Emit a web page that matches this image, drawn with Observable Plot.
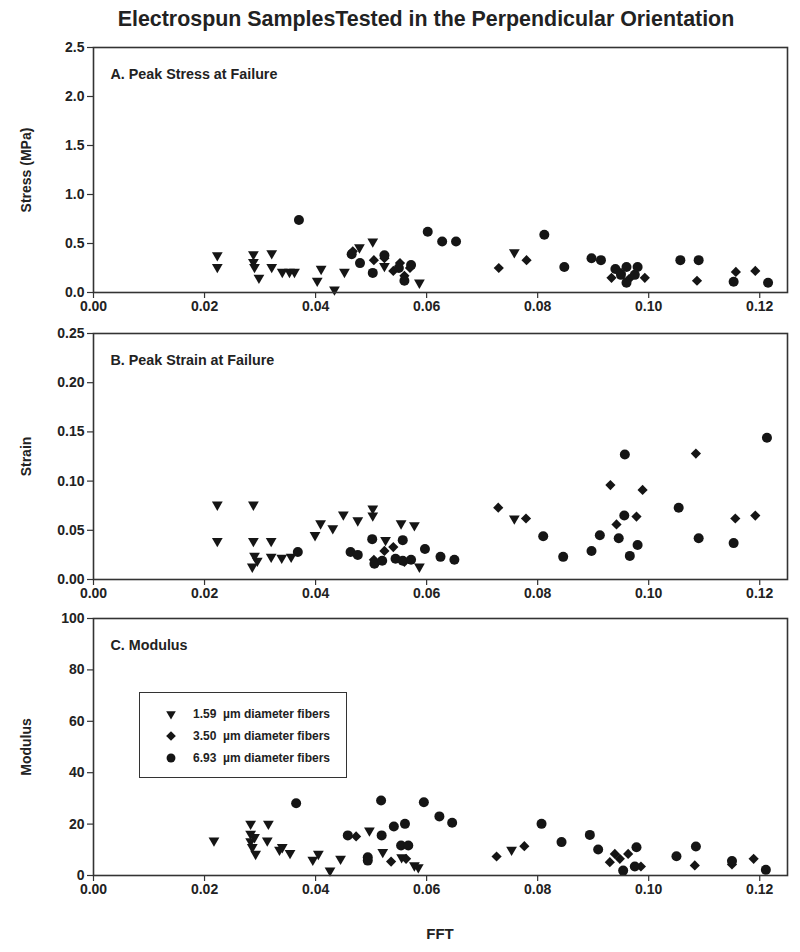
<!DOCTYPE html>
<html>
<head>
<meta charset="utf-8">
<script src="https://cdn.jsdelivr.net/npm/d3@7"></script>
<script src="https://cdn.jsdelivr.net/npm/@observablehq/plot@0.6"></script>
<style>
  html, body { margin: 0; padding: 0; background: #fff; }
  #wrap { position: relative; width: 800px; height: 952px; overflow: hidden; font-family: "Liberation Sans", Arial, sans-serif; color: #222; }
  .abs { position: absolute; }
  #title { top: 7px; left: 76px; width: 700px; text-align: center; font-size: 21.4px; font-weight: bold; }
  #xlabel { top: 925px; left: 340px; width: 200px; text-align: center; font-size: 15px; font-weight: bold; }
  #legend { left: 139px; top: 692px; width: 206px; height: 84px; border: 1.5px solid #333; background: #fff; font-size: 12px; font-weight: bold; }
  .row { position: absolute; left: 0; height: 16px; display: flex; align-items: center; }
  .row svg { margin-left: 24px; margin-right: 15px; }
</style>
</head>
<body>
<div id="wrap">
  <div id="title" class="abs"></div>
  <div id="pA" class="abs" style="top:35px;left:0"></div>
  <div id="pB" class="abs" style="top:322px;left:0"></div>
  <div id="pC" class="abs" style="top:607px;left:0"></div>
  <div id="legend" class="abs"></div>
  <div id="xlabel" class="abs"></div>
</div>
<script>
// ---- text ----
const titleText = "Electrospun SamplesTested in the Perpendicular Orientation";
const xLabel = "FFT";
const panelLabels = ["A. Peak Stress at Failure", "B. Peak Strain at Failure", "C. Modulus"];
const yLabels = ["Stress (MPa)", "Strain", "Modulus"];
const seriesNames = ["1.59  \u00b5m diameter fibers", "3.50  \u00b5m diameter fibers", "6.93  \u00b5m diameter fibers"];

// ---- ticks ----
const xTicks = [0, 0.02, 0.04, 0.06, 0.08, 0.10, 0.12];
const xDomain = [0, 0.125];
const yTicksA = [0, 0.5, 1.0, 1.5, 2.0, 2.5];
const yTicksB = [0, 0.05, 0.10, 0.15, 0.20, 0.25];
const yTicksC = [0, 20, 40, 60, 80, 100];

// ---- A. Peak stress (MPa) : [FFT, value] ----
const stress159 = [[0.0223,0.38],[0.0223,0.26],[0.0288,0.39],[0.0288,0.31],[0.0290,0.26],[0.0298,0.15],[0.0321,0.40],[0.0321,0.26],[0.0340,0.21],[0.0353,0.21],[0.0362,0.21],[0.0403,0.12],[0.0410,0.24],[0.0434,0.03],[0.0452,0.21],[0.0479,0.46],[0.0503,0.52],[0.0524,0.27],[0.0587,0.10],[0.0758,0.41]];
const stress350 = [[0.0467,0.42],[0.0505,0.33],[0.0524,0.35],[0.0540,0.22],[0.0552,0.30],[0.0560,0.17],[0.0570,0.25],[0.0730,0.25],[0.0780,0.33],[0.0933,0.15],[0.0950,0.20],[0.0965,0.14],[0.0993,0.15],[0.1087,0.12],[0.1157,0.21],[0.1192,0.22]];
const stress693 = [[0.0370,0.74],[0.0465,0.39],[0.0480,0.30],[0.0503,0.20],[0.0524,0.38],[0.0550,0.25],[0.0560,0.12],[0.0572,0.28],[0.0602,0.62],[0.0628,0.52],[0.0653,0.52],[0.0812,0.59],[0.0848,0.26],[0.0897,0.35],[0.0914,0.33],[0.0940,0.24],[0.0950,0.18],[0.0960,0.26],[0.0960,0.10],[0.0975,0.18],[0.0980,0.26],[0.1057,0.33],[0.1090,0.33],[0.1153,0.11],[0.1215,0.10]];

// ---- B. Peak strain ----
const strain159 = [[0.0223,0.076],[0.0223,0.039],[0.0288,0.076],[0.0288,0.039],[0.0320,0.039],[0.0286,0.013],[0.0295,0.019],[0.0290,0.024],[0.0320,0.023],[0.0339,0.022],[0.0356,0.023],[0.0399,0.045],[0.0409,0.057],[0.0431,0.052],[0.0450,0.066],[0.0476,0.060],[0.0503,0.072],[0.0503,0.065],[0.0526,0.040],[0.0554,0.057],[0.0578,0.055],[0.0587,0.013],[0.0758,0.062]];
const strain350 = [[0.0505,0.020],[0.0524,0.029],[0.0540,0.033],[0.0560,0.018],[0.0729,0.073],[0.0779,0.062],[0.0931,0.096],[0.0942,0.056],[0.0978,0.064],[0.0989,0.091],[0.1085,0.128],[0.1156,0.062],[0.1192,0.065]];
const strain693 = [[0.0368,0.028],[0.0463,0.028],[0.0476,0.025],[0.0502,0.041],[0.0506,0.016],[0.0520,0.019],[0.0544,0.021],[0.0557,0.040],[0.0557,0.019],[0.0572,0.020],[0.0597,0.031],[0.0625,0.023],[0.0650,0.020],[0.0810,0.044],[0.0846,0.023],[0.0897,0.029],[0.0912,0.045],[0.0946,0.042],[0.0956,0.065],[0.0957,0.127],[0.0966,0.024],[0.0980,0.035],[0.1054,0.073],[0.1090,0.042],[0.1153,0.037],[0.1213,0.144]];

// ---- C. Modulus ----
const modulus159 = [[0.0217,13.6],[0.0283,20.1],[0.0315,20.1],[0.0283,16.2],[0.0290,14.9],[0.0283,13.3],[0.0286,11.0],[0.0292,8.4],[0.0313,13.6],[0.0335,10.0],[0.0340,11.0],[0.0354,8.7],[0.0395,6.1],[0.0405,8.4],[0.0426,1.9],[0.0445,6.5],[0.0497,17.5],[0.0521,9.1],[0.0555,7.1],[0.0578,3.9],[0.0585,3.2],[0.0753,10.0]];
const modulus350 = [[0.0473,15.2],[0.0536,5.4],[0.0563,6.5],[0.0726,7.4],[0.0776,11.4],[0.0930,5.2],[0.0939,8.4],[0.0948,6.5],[0.0963,8.4],[0.0986,3.5],[0.1083,3.9],[0.1150,4.3],[0.1189,6.5]];
const modulus693 = [[0.0365,28.1],[0.0518,29.2],[0.0458,15.6],[0.0519,15.6],[0.0494,7.1],[0.0494,5.8],[0.0541,19.1],[0.0561,20.1],[0.0554,11.7],[0.0567,11.7],[0.0595,28.5],[0.0623,23.0],[0.0646,20.5],[0.0807,20.1],[0.0843,13.0],[0.0894,15.8],[0.0909,10.1],[0.0954,1.9],[0.0978,11.0],[0.0975,3.5],[0.1050,7.5],[0.1085,11.3],[0.1150,5.6],[0.1211,2.2]];

// ---- drawing ----
const ink = "#151515";
const font = {fontFamily: "'Liberation Sans', Arial, sans-serif", fontWeight: "bold", fontSize: "14px", color: "#222", background: "#fff", overflow: "visible"};

function seriesMarks(s159, s350, s693) {
  return [
    Plot.dot(s159, {x: d => d[0], y: d => d[1], symbol: "triangle", rotate: 180, r: 4, fill: ink, stroke: "none"}),
    Plot.dot(s350, {x: d => d[0], y: d => d[1], symbol: "diamond2", r: 4.6, fill: ink, stroke: "none"}),
    Plot.dot(s693, {x: d => d[0], y: d => d[1], symbol: "circle", r: 5, fill: ink, stroke: "none"})
  ];
}

function panel({height, marginTop, marginBottom, yDomain, yTicks, yFormat, yLabel, label, data}) {
  return Plot.plot({
    width: 800, height, marginLeft: 93, marginRight: 13, marginTop, marginBottom,
    style: font,
    x: {domain: xDomain},
    y: {domain: yDomain},
    marks: [
      Plot.axisX({ticks: xTicks, tickFormat: d3.format(".2f"), tickSize: 6, label: null, fontSize: 14, stroke: "#333", strokeWidth: 1.2}),
      Plot.axisY({ticks: yTicks, tickFormat: d3.format(yFormat), tickSize: 6, label: yLabel, labelAnchor: "center", labelOffset: 72, labelArrow: "none", fontSize: 14, stroke: "#333", strokeWidth: 1.2}),
      ...seriesMarks(...data),
      Plot.frame({stroke: "#333", strokeWidth: 1.6}),
      Plot.text([label], {frameAnchor: "top-left", dx: 17, dy: 21, text: d => d, textAnchor: "start", fontSize: 14.3, fontWeight: "bold", fill: "#222"})
    ]
  });
}

document.getElementById("title").textContent = titleText;
document.getElementById("xlabel").textContent = xLabel;

document.getElementById("pA").append(panel({height: 287, marginTop: 12, marginBottom: 30, yDomain: [0, 2.5], yTicks: yTicksA, yFormat: ".1f", yLabel: yLabels[0], label: panelLabels[0], data: [stress159, stress350, stress693]}));
document.getElementById("pB").append(panel({height: 285, marginTop: 11, marginBottom: 28, yDomain: [0, 0.25], yTicks: yTicksB, yFormat: ".2f", yLabel: yLabels[1], label: panelLabels[1], data: [strain159, strain350, strain693]}));
document.getElementById("pC").append(panel({height: 298, marginTop: 11, marginBottom: 30, yDomain: [0, 100], yTicks: yTicksC, yFormat: "d", yLabel: yLabels[2], label: panelLabels[2], data: [modulus159, modulus350, modulus693]}));

// legend
const legend = document.getElementById("legend");
const symbols = [{s: d3.symbolTriangle, rot: 180, size: 40}, {s: d3.symbolDiamond2, rot: 0, size: 60}, {s: d3.symbolCircle, rot: 0, size: 62}];
seriesNames.forEach((name, i) => {
  const row = document.createElement("div");
  row.className = "row";
  row.style.top = (13 + i * 22) + "px";
  const svg = d3.create("svg").attr("width", 14).attr("height", 14);
  svg.append("path").attr("d", d3.symbol(symbols[i].s, symbols[i].size)())
    .attr("transform", `translate(7,7) rotate(${symbols[i].rot})`).attr("fill", ink);
  row.append(svg.node());
  const span = document.createElement("span");
  span.style.whiteSpace = "pre";
  span.textContent = name;
  row.append(span);
  legend.append(row);
});
</script>
</body>
</html>
